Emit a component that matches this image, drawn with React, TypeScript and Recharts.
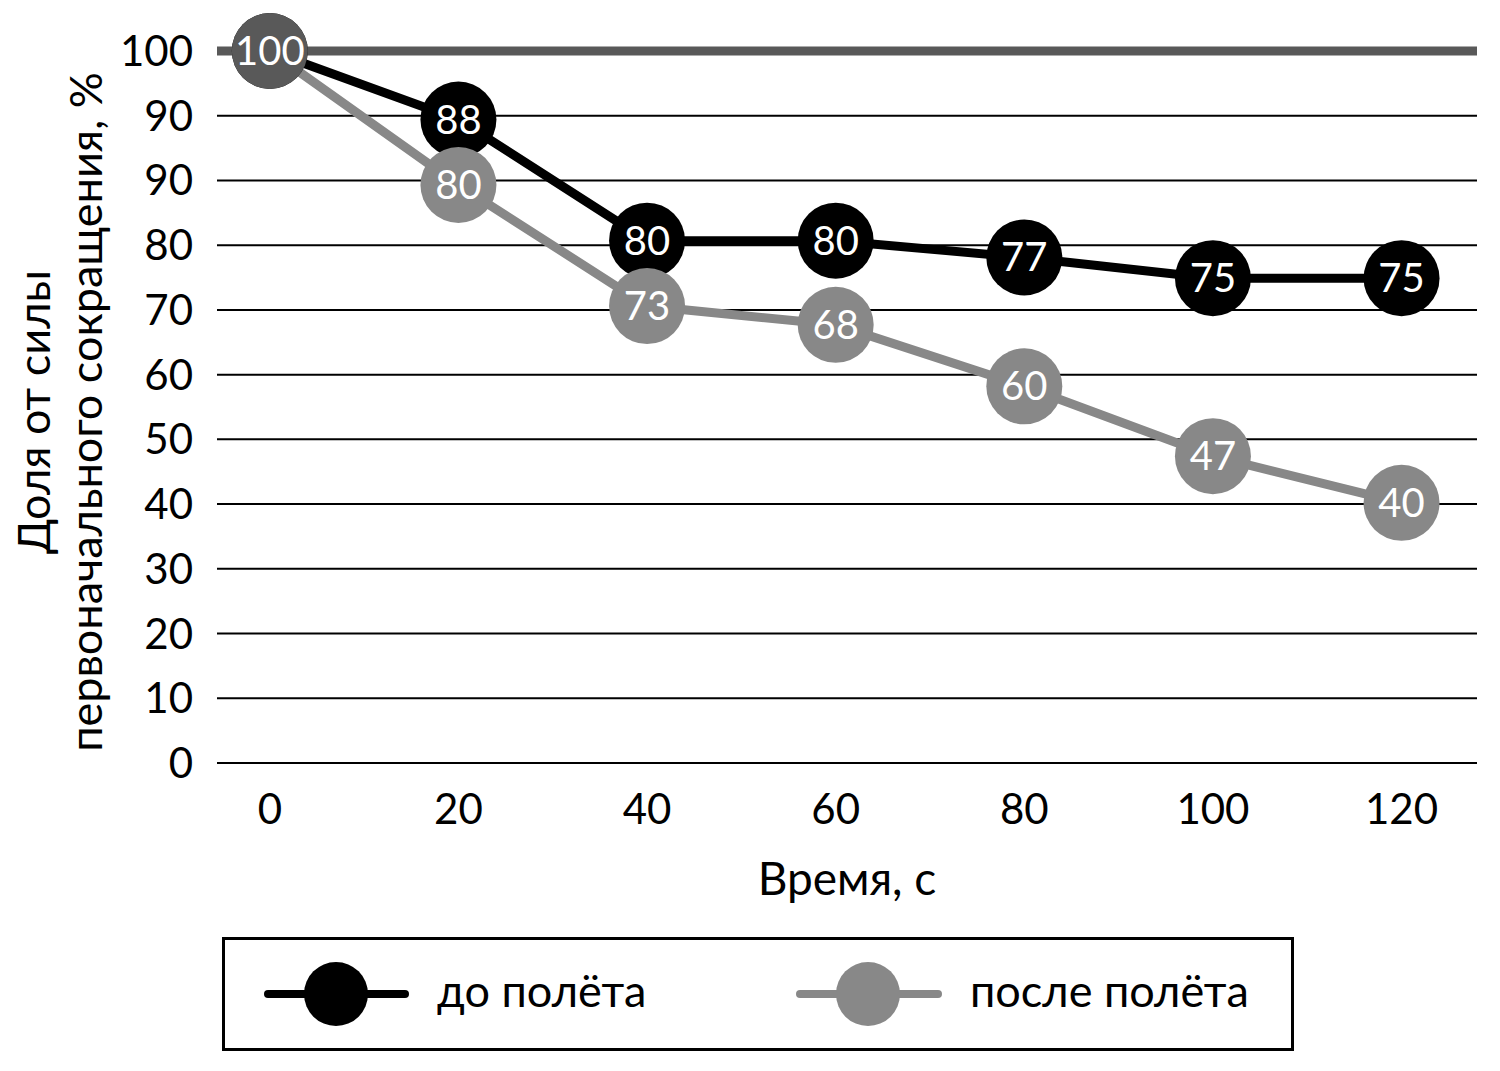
import React from 'react'
import {
  LineChart,
  Line,
  XAxis,
  YAxis,
  CartesianGrid,
  ReferenceLine,
  Legend
} from 'recharts'

// Время, с
const times = [0, 20, 40, 60, 80, 100, 120]

// положение точек на оси (как нарисовано)
const beforeValues = [110, 99.4, 80.7, 80.7, 78.1, 74.9, 74.9]
const afterValues = [110, 89.3, 70.6, 67.7, 58.2, 47.4, 40.2]

// подписи в кружках
const beforeLabels = ['100', '88', '80', '80', '77', '75', '75']
const afterLabels = ['100', '80', '73', '68', '60', '47', '40']

// деления оси Y и их подписи (в оригинале 90 повторяется)
const yTicks = [0, 10, 20, 30, 40, 50, 60, 70, 80, 90, 100, 110]
const yTickLabels = ['0', '10', '20', '30', '40', '50', '60', '70', '80', '90', '90', '100']
const xTicks = [0, 20, 40, 60, 80, 100, 120]

const FONT = 'Lato, "Open Sans", sans-serif'
const BLACK = '#000000'
const GREY = '#888888'
const DARK = '#595959'

const chartData = times.map((t, i) => ({
  t,
  before: beforeValues[i],
  after: afterValues[i]
}))

const makeDot = (fill: string, labels: string[], firstFill?: string) => (props: any) => {
  const { cx, cy, index } = props
  if (cx == null || cy == null) return null
  const f = index === 0 && firstFill ? firstFill : fill
  return (
    <g key={`dot-${fill}-${index}`}>
      <circle cx={cx} cy={cy} r={38} fill={f} />
      <text
        x={cx}
        y={cy + 14}
        textAnchor="middle"
        fill="#ffffff"
        fontSize={40}
        fontFamily={FONT}
      >
        {labels[index]}
      </text>
    </g>
  )
}

const XTick = ({ x, y, payload }: any) => (
  <text x={x} y={y + 61} textAnchor="middle" fontSize={42} fontFamily={FONT} fill="#000">
    {payload.value}
  </text>
)

const YTick = ({ x, y, payload, index }: any) => (
  <text x={x - 24} y={y + 15} textAnchor="end" fontSize={42} fontFamily={FONT} fill="#000">
    {yTickLabels[yTicks.indexOf(payload.value)] ?? yTickLabels[index]}
  </text>
)

const YLabel = () => (
  <g transform="translate(0, 404)">
    <text
      transform="translate(50, 0) rotate(-90)"
      textAnchor="middle"
      fontSize={45}
      fontFamily={FONT}
      fill="#000"
    >
      Доля от силы
    </text>
    <text
      transform="translate(102, 0) rotate(-90)"
      textAnchor="middle"
      fontSize={45}
      fontFamily={FONT}
      fill="#000"
    >
      первоначального сокращения, %
    </text>
  </g>
)

const XLabel = () => (
  <text x={847} y={887} textAnchor="middle" fontSize={46} fontFamily={FONT} fill="#000">
    Время, с
  </text>
)

const LegendBox = () => (
  <svg width={1072} height={114} style={{ display: 'block' }}>
    <rect x={1.5} y={1.5} width={1069} height={111} fill="#fff" stroke="#000" strokeWidth={3} />
    <line x1={46} x2={183} y1={57} y2={57} stroke={BLACK} strokeWidth={8} strokeLinecap="round" />
    <circle cx={114} cy={57} r={32} fill={BLACK} />
    <text x={215} y={70} fontSize={45} fontFamily={FONT} fill="#000">
      до полёта
    </text>
    <line x1={578} x2={716} y1={57} y2={57} stroke={GREY} strokeWidth={8} strokeLinecap="round" />
    <circle cx={646} cy={57} r={32} fill={GREY} />
    <text x={748} y={70} fontSize={45} fontFamily={FONT} fill="#000">
      после полёта
    </text>
  </svg>
)

export default function App() {
  return (
    <div style={{ width: 1492, height: 1060, marginLeft: -8, fontFamily: FONT }}>
      <LineChart
        width={1492}
        height={1060}
        data={chartData}
        margin={{ top: 43, right: 15, bottom: 205, left: 0 }}
      >
        <CartesianGrid vertical={false} stroke="#000" strokeWidth={2} />
        <XAxis
          dataKey="t"
          type="number"
          domain={[-5.6, 128]}
          ticks={xTicks}
          axisLine={false}
          tickLine={false}
          tickSize={0}
          tickMargin={0}
          height={100}
          tick={<XTick />}
          interval={0}
          label={<XLabel />}
        />
        <YAxis
          type="number"
          domain={[0, 110]}
          ticks={yTicks}
          axisLine={false}
          tickLine={false}
          tickSize={0}
          tickMargin={0}
          width={217}
          tick={<YTick />}
          interval={0}
          label={<YLabel />}
        />
        <ReferenceLine y={110} stroke={DARK} strokeWidth={9} />
        <Legend
          layout="horizontal"
          verticalAlign="middle"
          align="center"
          content={<LegendBox />}
          wrapperStyle={{ position: 'absolute', left: 222, top: 929, width: 1072, height: 114 }}
        />
        <Line
          name="до полёта"
          dataKey="before"
          stroke={BLACK}
          strokeWidth={9}
          dot={makeDot(BLACK, beforeLabels)}
          activeDot={false}
          isAnimationActive={false}
        />
        <Line
          name="после полёта"
          dataKey="after"
          stroke={GREY}
          strokeWidth={9}
          dot={makeDot(GREY, afterLabels, DARK)}
          activeDot={false}
          isAnimationActive={false}
        />
      </LineChart>
    </div>
  )
}
